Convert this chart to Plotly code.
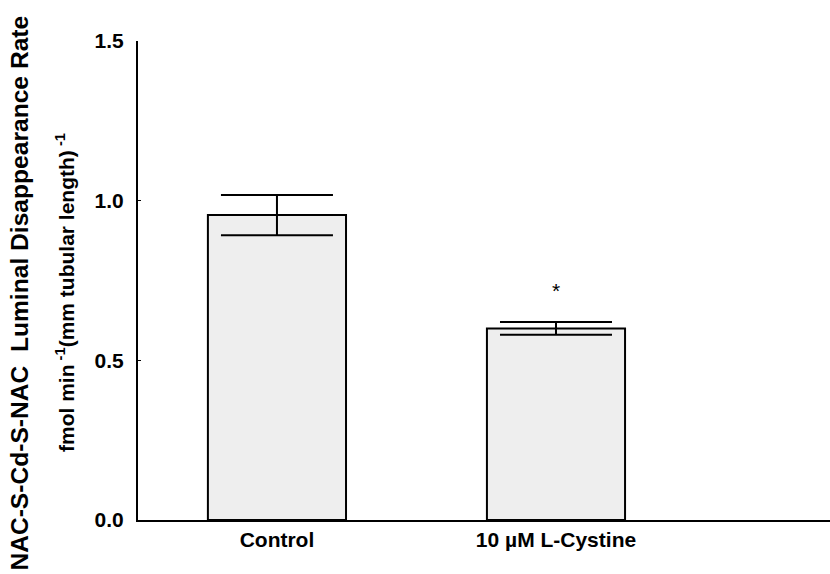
import plotly.graph_objects as go

# Group labels and measured rates (fmol min^-1 (mm tubular length)^-1)
groups = ["Control", "10 µM L-Cystine"]
rates = [0.955, 0.600]
sem = [0.063, 0.020]
significant = [False, True]

y_ticks = [0.0, 0.5, 1.0, 1.5]
y_tick_text = ["0.0", "0.5", "1.0", "1.5"]

FONT = "Liberation Sans, Arial, sans-serif"

fig = go.Figure()
fig.add_trace(go.Bar(
    x=list(range(len(groups))),
    y=rates,
    width=0.495,
    marker=dict(color="#eeeeee", line=dict(color="black", width=2)),
    error_y=dict(type="data", array=sem, visible=True,
                 color="black", thickness=2, width=56),
    showlegend=False,
))

# Significance marker above the treated group
for i, (r, e, sig) in enumerate(zip(rates, sem, significant)):
    if sig:
        fig.add_annotation(x=i, y=r + e + 0.1, text="*", showarrow=False,
                           font=dict(family=FONT, size=21, color="black"),
                           xref="x", yref="y")

# Two-line y-axis title
fig.add_annotation(xref="paper", yref="paper", x=-0.171, y=0.474,
                   text="NAC-S-Cd-S-NAC  Luminal Disappearance Rate",
                   textangle=-90, showarrow=False, xanchor="center", yanchor="middle",
                   font=dict(family=FONT, size=24.6, color="black", weight="bold"))
fig.add_annotation(xref="paper", yref="paper", x=-0.1055, y=0.476,
                   text="fmol min<sup> -1</sup>(mm tubular length)<sup> -1</sup>",
                   textangle=-90, showarrow=False, xanchor="center", yanchor="middle",
                   font=dict(family=FONT, size=21, color="black", weight="bold"))

fig.update_layout(
    width=830, height=574,
    margin=dict(l=138, r=0, t=41, b=54),
    paper_bgcolor="white", plot_bgcolor="white",
    font=dict(family=FONT, color="black"),
    xaxis=dict(
        range=[-0.498, 1.982],
        tickmode="array", tickvals=list(range(len(groups))), ticktext=groups,
        showline=True, linecolor="black", linewidth=2,
        ticks="", showgrid=False, zeroline=False,
        tickfont=dict(family=FONT, size=21, color="black", weight="bold"),
    ),
    yaxis=dict(
        range=[0, 1.5],
        tickmode="array", tickvals=y_ticks, ticktext=y_tick_text,
        showline=True, linecolor="black", linewidth=2,
        ticks="inside", ticklen=3, tickwidth=1, tickcolor="black",
        ticklabelstandoff=8,
        showgrid=False, zeroline=False,
        tickfont=dict(family=FONT, size=21, color="black", weight="bold"),
    ),
)

fig.write_html("out.html")
